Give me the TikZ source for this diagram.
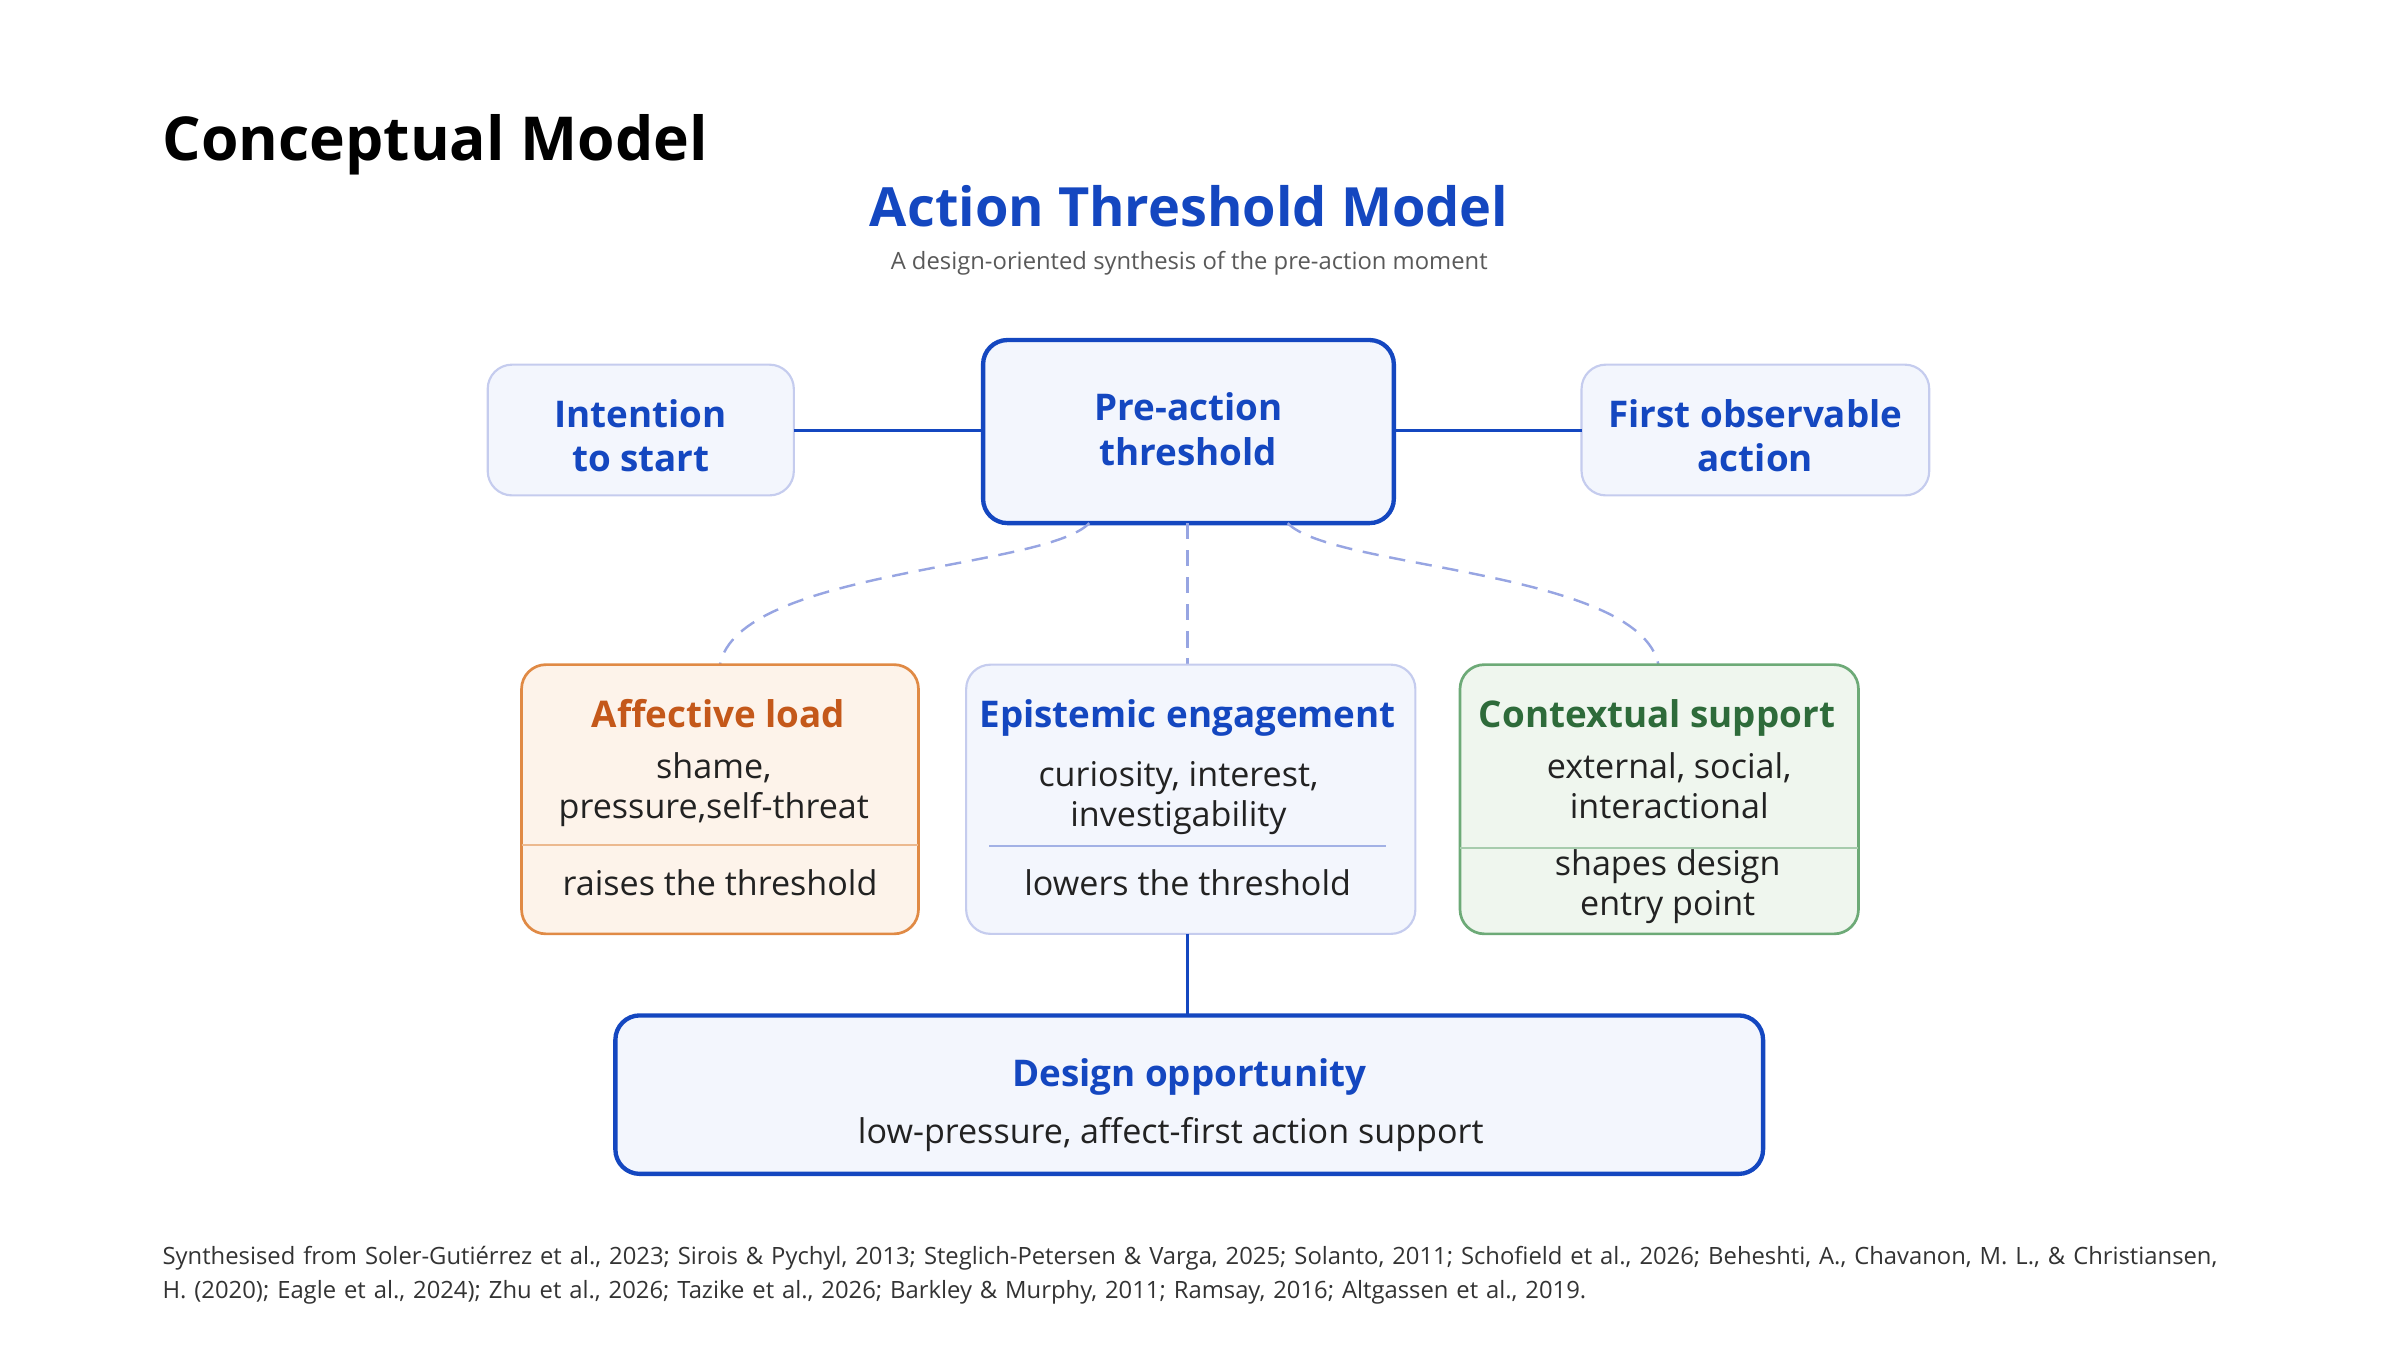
\documentclass[tikz,border=0pt]{standalone}
\usepackage{fontspec}
\setmainfont{Open Sans}
\definecolor{blu}{HTML}{1447C0}
\definecolor{lav}{HTML}{C5CCEE}
\definecolor{pale}{HTML}{F3F6FD}
\definecolor{dash}{HTML}{97A5E2}
\definecolor{org}{HTML}{E08A45}
\definecolor{orgt}{HTML}{C4581A}
\definecolor{orgf}{HTML}{FDF3EA}
\definecolor{grn}{HTML}{6DAA77}
\definecolor{grnt}{HTML}{2E6B3A}
\definecolor{grnf}{HTML}{EFF6EE}
\definecolor{txt}{HTML}{222222}
\begin{document}
\begin{tikzpicture}[x=0.01cm,y=-0.01cm,inner sep=0pt,
 soft/.style={draw=lav,fill=pale,line width=0.4pt,rounded corners=4.5pt},
 strong/.style={draw=blu,fill=pale,line width=0.8pt,rounded corners=4.5pt},
 hd/.style={font=\fontsize{6.8}{8.2}\selectfont\bfseries,align=center},
 bd/.style={font=\fontsize{6.3}{7.5}\selectfont,text=txt,align=center},
 dsh/.style={draw=dash,dashed,dash pattern=on 3pt off 2pt,line width=0.45pt},
 con/.style={draw=blu,line width=0.6pt}]
\useasboundingbox (0,0) rectangle (1560,877.5);
\node[anchor=base west,font=\fontsize{11.2}{12}\selectfont\bfseries] (cm) at (105,104) {Conceptual Model};
\node[anchor=base,font=\fontsize{10}{12}\selectfont\bfseries,text=blu] (t) at (773,147) {Action Threshold Model};
\node[anchor=base,font=\fontsize{4.4}{5}\selectfont,text=black!65] (st) at (773,175) {A design-oriented synthesis of the pre-action moment};
% top row
\draw[soft] (317,237) rectangle (516,322);
\node[hd,text=blu] (it) at (416.5,283) {Intention\\to start};
\draw[strong] (639,221) rectangle (906,340);
\node[hd,text=blu] (pa) at (772.5,279) {Pre-action\\threshold};
\draw[soft] (1028,237) rectangle (1254,322);
\node[hd,text=blu] (fo) at (1141,283) {First observable\\action};
\coordinate (a1) at (516,280); \coordinate (a2) at (639,280);
\coordinate (b1) at (906,280); \coordinate (b2) at (1028,280);
\draw[con] (a1) -- (a2); \draw[con] (b1) -- (b2);
% dashed
\coordinate (d1) at (708,340); \coordinate (e1) at (468,432);
\coordinate (d2) at (772,340); \coordinate (e2) at (772,432);
\coordinate (d3) at (837,340); \coordinate (e3) at (1078,432);
\draw[dsh] (d1) .. controls (680,370) and (480,370) .. (e1);
\draw[dsh] (d2) -- (e2);
\draw[dsh] (d3) .. controls (865,370) and (1065,370) .. (e3);
% affective
\draw[draw=org,fill=orgf,line width=0.5pt,rounded corners=4.5pt] (339,432) rectangle (597,607);
\draw[draw=org!60,line width=0.4pt] (339,549) -- (597,549);
\node[hd,text=orgt,anchor=base] (al) at (467,473) {Affective load};
\node[bd,anchor=base] (al2) at (464,506) {shame,};
\node[bd,anchor=base] (al3) at (464,532) {pressure,self-threat};
\node[bd,anchor=base] (al4) at (468,582) {raises the threshold};
% epistemic
\draw[soft] (628,432) rectangle (920,607);
\draw[draw=lav!80!blu,line width=0.4pt] (643,550) -- (901,550);
\node[hd,text=blu,anchor=base] (ep) at (772,473) {Epistemic engagement};
\node[bd,anchor=base] (ep2) at (766,511) {curiosity, interest,};
\node[bd,anchor=base] (ep3) at (766,537) {investigability};
\node[bd,anchor=base] (ep4) at (772,582) {lowers the threshold};
% contextual
\draw[draw=grn,fill=grnf,line width=0.5pt,rounded corners=4.5pt] (949,432) rectangle (1208,607);
\draw[draw=grn!60,line width=0.4pt] (949,551) -- (1208,551);
\node[hd,text=grnt,anchor=base] (cs) at (1077,473) {Contextual support};
\node[bd,anchor=base] (cs2) at (1085,506) {external, social,};
\node[bd,anchor=base] (cs3) at (1085,532) {interactional};
\node[bd,anchor=base] (cs4) at (1084,569) {shapes design};
\node[bd,anchor=base] (cs5) at (1084,595) {entry point};
% design
\coordinate (f1) at (772,607); \coordinate (f2) at (772,660);
\draw[con] (f1) -- (f2);
\draw[strong] (400,660) rectangle (1146,763);
\node[hd,text=blu,anchor=base] (dop) at (773,706) {Design opportunity};
\node[bd,anchor=base] (dop2) at (761,743) {low-pressure, affect-first action support};
% footer
\node[anchor=base west,font=\fontsize{4.4}{6.2}\selectfont,text=black!80,align=left,text width=1420] (ft) at (105,822) {Synthesised from Soler-Gutiérrez et al., 2023; Sirois \& Pychyl, 2013; Steglich-Petersen \& Varga, 2025; Solanto, 2011; Schofield et al., 2026; Beheshti, A., Chavanon, M. L., \& Christiansen,\\H. (2020); Eagle et al., 2024); Zhu et al., 2026; Tazike et al., 2026; Barkley \& Murphy, 2011; Ramsay, 2016; Altgassen et al., 2019.};
\end{tikzpicture}
\end{document}
